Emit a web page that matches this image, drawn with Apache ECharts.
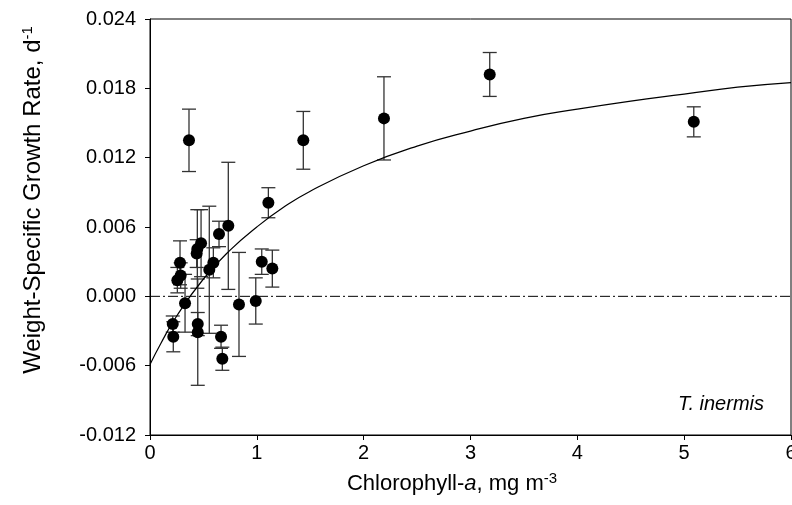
<!DOCTYPE html>
<html>
<head>
<meta charset="utf-8">
<script src="https://cdn.jsdelivr.net/npm/echarts@6/dist/echarts.min.js"></script>
<style>
html,body{margin:0;padding:0;background:#fff;}
#chart{width:792px;height:505px;}
</style>
</head>
<body>
<div id="chart"></div>
<script>
// Chlorophyll-a (x), growth rate (y), half-width of error bar
const chlA = [0.365, 1.435, 2.19, 3.18, 5.09, 1.108, 0.733, 0.646, 0.478, 0.443, 0.437, 0.281, 0.593, 0.555, 0.287, 0.256, 0.328, 0.833, 0.99, 1.046, 1.145, 0.213, 0.218, 0.447, 0.447, 0.665, 0.677];
const growth = [0.0135, 0.0135, 0.0154, 0.0192, 0.0151, 0.0081, 0.0061, 0.0054, 0.0046, 0.0041, 0.0037, 0.0029, 0.0029, 0.0023, 0.0018, 0.0014, -0.0006, -0.0007, -0.0004, 0.0030, 0.0024, -0.0024, -0.0035, -0.0024, -0.0031, -0.0035, -0.0054];
const errHalf = [0.0027, 0.0025, 0.0036, 0.0019, 0.0013, 0.0013, 0.0055, 0.0011, 0.0029, 0.0034, 0.0012, 0.0019, 0.0013, 0.0055, 0.0011, 0.0011, 0.0025, 0.0045, 0.0020, 0.0011, 0.0016, 0.0007, 0.0013, 0.0010, 0.0046, 0.0010, 0.0010];
// fitted curve
const curveX = [0, 0.1, 0.25, 0.5, 0.75, 1, 1.25, 1.5, 2, 2.5, 3, 3.5, 4, 4.5, 5, 5.5, 6];
const curveY = [-0.0059, -0.0041, -0.0017, 0.0015, 0.0040, 0.0060, 0.0077, 0.0091, 0.0113, 0.0130, 0.0143, 0.0154, 0.0162, 0.0169, 0.0175, 0.0181, 0.0185];
const zeroLineX = [0, 6];
const xTicks = [0, 1, 2, 3, 4, 5, 6];
const yTicks = [-0.012, -0.006, 0, 0.006, 0.012, 0.018, 0.024];

const chart = echarts.init(document.getElementById('chart'), null, {renderer: 'canvas'});
const FONT = '"Liberation Sans", Arial, sans-serif';

const points = chlA.map((x, i) => [x, growth[i]]);
const bars = chlA.map((x, i) => [x, growth[i] - errHalf[i], growth[i] + errHalf[i]]);
const curve = curveX.map((x, i) => [x, curveY[i]]);
const zeroLine = zeroLineX.map(x => [x, 0]);

const option = {
  animation: false,
  backgroundColor: '#fff',
  grid: {left: 150, top: 19, right: 1, bottom: 70, show: true, borderColor: '#000', borderWidth: 1, backgroundColor: 'transparent', containLabel: false, outerBoundsMode: 'none'},
  xAxis: {
    type: 'value', min: xTicks[0], max: xTicks[xTicks.length - 1], interval: 1,
    axisLine: {show: true, onZero: false, lineStyle: {color: '#000', width: 1}},
    axisTick: {show: true, inside: false, length: 5, lineStyle: {color: '#000'}},
    axisLabel: {color: '#000', fontSize: 20, fontFamily: FONT, margin: 8},
    splitLine: {show: false}
  },
  yAxis: {
    type: 'value', min: yTicks[0], max: yTicks[yTicks.length - 1], interval: 0.006,
    axisLine: {show: true, onZero: false, lineStyle: {color: '#000', width: 1}},
    axisTick: {show: true, inside: false, length: 5, lineStyle: {color: '#000'}},
    axisLabel: {color: '#000', fontSize: 20, fontFamily: FONT, margin: 14, formatter: v => v.toFixed(3)},
    splitLine: {show: false}
  },
  graphic: [
    {
      type: 'text', x: 33, y: 200, rotation: Math.PI / 2,
      style: {
        text: '{n|Weight-Specific Growth Rate, d}{s|-1}',
        rich: {
          n: {fontSize: 24, fontFamily: FONT, fill: '#000', color: '#000'},
          s: {fontSize: 15, fontFamily: FONT, fill: '#000', color: '#000', verticalAlign: 'top', padding: [0, 0, 10, 0]}
        },
        align: 'center', verticalAlign: 'middle', textAlign: 'center', textVerticalAlign: 'middle', fill: '#000'
      }
    },
    {
      type: 'text', x: 452, y: 484,
      style: {
        text: '{n|Chlorophyll-}{i|a}{n|, mg m}{s|-3}',
        rich: {
          n: {fontSize: 22, fontFamily: FONT, fill: '#000', color: '#000'},
          i: {fontSize: 22, fontFamily: FONT, fontStyle: 'italic', fill: '#000', color: '#000'},
          s: {fontSize: 15, fontFamily: FONT, fill: '#000', color: '#000', verticalAlign: 'top', padding: [0, 0, 10, 0]}
        },
        align: 'center', verticalAlign: 'middle', textAlign: 'center', textVerticalAlign: 'middle', fill: '#000'
      }
    },
    {
      type: 'text', x: 764, y: 404,
      style: {
        text: 'T. inermis', font: 'italic 20px ' + FONT, fill: '#000',
        align: 'right', verticalAlign: 'middle', textAlign: 'right', textVerticalAlign: 'middle'
      }
    }
  ],
  series: [
    {
      type: 'line', data: zeroLine, symbol: 'none', silent: true, z: 1,
      lineStyle: {color: '#000', width: 1, type: [10, 3, 2, 3]}
    },
    {
      type: 'custom', data: bars, z: 2, silent: true,
      renderItem: function (params, api) {
        const x = api.value(0);
        const top = api.coord([x, api.value(2)]);
        const bot = api.coord([x, api.value(1)]);
        const w = 7;
        const st = {stroke: '#333', lineWidth: 1.3};
        return {
          type: 'group',
          children: [
            {type: 'line', shape: {x1: top[0], y1: top[1], x2: bot[0], y2: bot[1]}, style: st},
            {type: 'line', shape: {x1: top[0] - w, y1: top[1], x2: top[0] + w, y2: top[1]}, style: st},
            {type: 'line', shape: {x1: bot[0] - w, y1: bot[1], x2: bot[0] + w, y2: bot[1]}, style: st}
          ]
        };
      }
    },
    {
      type: 'line', data: curve, smooth: true, symbol: 'none', z: 3, silent: true,
      lineStyle: {color: '#000', width: 1.2}
    },
    {
      type: 'scatter', data: points, symbol: 'circle', symbolSize: 12, z: 4,
      itemStyle: {color: '#000', opacity: 1}
    }
  ]
};
chart.setOption(option);
</script>
</body>
</html>
